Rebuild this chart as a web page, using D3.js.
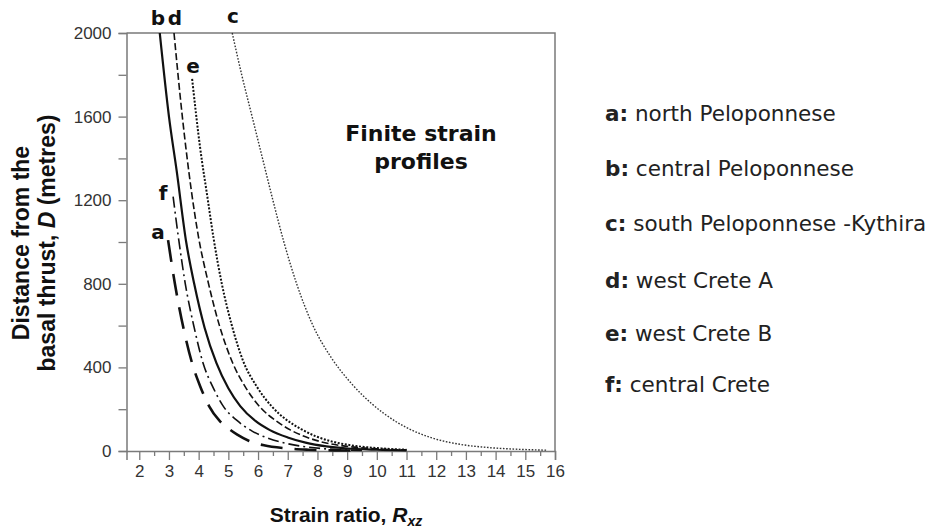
<!DOCTYPE html>
<html>
<head>
<meta charset="utf-8">
<script src="https://cdn.jsdelivr.net/npm/d3@7"></script>
<style>
  body { margin: 0; background: #fff; }
  svg { display: block; }
  .tick text { font-family: Arial, "Liberation Sans", sans-serif; font-size: 17px; fill: #333; }
  .axis-title { font-family: Arial, "Liberation Sans", sans-serif; font-weight: bold; fill: #111; }
  .curve-label { font-family: "DejaVu Sans", Verdana, sans-serif; font-weight: bold; font-size: 20px; fill: #111; }
  .legend { font-family: "DejaVu Sans", Verdana, sans-serif; font-size: 21.5px; fill: #222; }
</style>
</head>
<body>
<svg id="chart" width="934" height="532"></svg>
<script>
// Strain profiles: [R, D]
const curveA = [[2.97, 1009], [3.2, 800], [3.5, 580], [3.8, 410], [4.05, 310], [4.35, 215], [4.7, 145],
    [5.0, 108], [5.3, 78], [5.7, 48], [6.2, 27], [6.9, 13], [7.7, 6], [8.6, 3], [9.2, 2]];
const curveB = [[2.69, 2000], [3.0, 1600], [3.26, 1340], [3.58, 1000], [3.85, 800], [4.2, 590], [4.6, 420],
    [5.0, 300], [5.4, 215], [5.9, 145], [6.4, 100], [7.0, 65], [7.6, 40], [8.3, 22], [9.0, 12], [10, 6], [11, 3]];
const curveC = [[5.13, 2000], [5.45, 1800], [5.8, 1600], [6.15, 1400], [6.5, 1200], [6.87, 1000], [7.3, 800],
    [7.85, 600], [8.45, 450], [9.1, 330], [9.8, 230], [10.65, 140], [11.8, 65], [12.8, 32],
    [13.8, 16], [14.8, 8], [15.7, 4]];
const curveD = [[3.17, 2000], [3.45, 1600], [3.75, 1250], [4.0, 1020], [4.3, 820], [4.7, 600], [5.15, 420],
    [5.6, 300], [6.1, 205], [6.6, 145], [7.1, 100], [7.6, 68], [8.1, 45], [9, 22], [10, 10], [11, 5]];
const curveE = [[3.78, 1780], [4.05, 1450], [4.3, 1210], [4.5, 1020], [4.78, 800], [5.1, 610], [5.5, 430],
    [5.95, 310], [6.45, 215], [6.95, 150], [7.45, 105], [7.95, 70], [8.5, 45], [9.3, 24], [10.2, 12], [11, 6]];
const curveF = [[3.14, 1217], [3.33, 1010], [3.55, 800], [3.85, 590], [4.15, 420], [4.5, 300], [4.85, 210],
    [5.3, 145], [5.8, 95], [6.3, 63], [6.9, 38], [7.6, 20], [8.4, 9], [9.5, 3]];

const curveKeys = ['a', 'b', 'c', 'd', 'e', 'f'];
const regions = ['north Peloponnese', 'central Peloponnese', 'south Peloponnese -Kythira',
    'west Crete A', 'west Crete B', 'central Crete'];
const xTicks = [2, 3, 4, 5, 6, 7, 8, 9, 10, 11, 12, 13, 14, 15, 16];
const yTicks = [0, 400, 800, 1200, 1600, 2000];

const svg = d3.select('#chart');
const x = d3.scaleLinear().domain([1.57, 16]).range([126.5, 555]);
const y = d3.scaleLinear().domain([0, 2000]).range([451, 33]);
const axisColor = '#7a7a7a';

// Minor ticks (half steps on x, 200 on y)
const xMinor = d3.range(2.5, 16, 1);
const yMinor = d3.range(200, 2000, 400);

svg.append('g')
    .attr('transform', `translate(0,${y(0)})`)
    .call(d3.axisBottom(x).tickValues(xTicks).tickFormat(d3.format('d')).tickSize(9).tickPadding(5));
svg.append('g')
    .attr('transform', `translate(0,${y(0)})`)
    .call(d3.axisBottom(x).tickValues(xMinor).tickFormat('').tickSize(5))
    .select('.domain').remove();

svg.append('g')
    .attr('transform', `translate(${x.range()[0]},0)`)
    .call(d3.axisLeft(y).tickValues(yTicks).tickFormat(d3.format('d')).tickSize(8).tickPadding(7));
svg.append('g')
    .attr('transform', `translate(${x.range()[0]},0)`)
    .call(d3.axisLeft(y).tickValues(yMinor).tickFormat('').tickSize(8))
    .select('.domain').remove();

svg.selectAll('.domain').attr('stroke', axisColor).attr('stroke-width', 1.5);
svg.selectAll('.tick line').attr('stroke', axisColor).attr('stroke-width', 1.3);

// Frame: top and right edges
svg.append('path')
    .attr('d', `M${x.range()[0]},${y(2000)}H${x(16)}V${y(0)}`)
    .attr('fill', 'none')
    .attr('stroke', axisColor)
    .attr('stroke-width', 1.5);

// Curves
const styles = {
    a: { data: curveA, dash: '22,12', width: 2.6 },
    b: { data: curveB, dash: null, width: 2.2 },
    c: { data: curveC, dash: '1.6,1.6', width: 1.4 },
    d: { data: curveD, dash: '7,3', width: 1.6 },
    e: { data: curveE, dash: '2,1.6', width: 2 },
    f: { data: curveF, dash: '11,4,2,4', width: 1.6 }
};

const line = d3.line()
    .x(d => x(d[0]))
    .y(d => y(d[1]))
    .curve(d3.curveMonotoneX);

curveKeys.forEach(k => {
    const s = styles[k];
    svg.append('path')
        .datum(s.data)
        .attr('d', line)
        .attr('fill', 'none')
        .attr('stroke', k === 'c' ? '#333' : '#111')
        .attr('stroke-width', s.width)
        .attr('stroke-dasharray', s.dash);
});

// Labels at the curve ends
const labelPos = [
    { k: 'b', x: 158, y: 25 },
    { k: 'd', x: 175, y: 25 },
    { k: 'c', x: 233, y: 23 },
    { k: 'e', x: 193, y: 73 },
    { k: 'f', x: 163, y: 200 },
    { k: 'a', x: 158, y: 239 }
];
svg.selectAll('.curve-label')
    .data(labelPos)
    .enter().append('text')
    .attr('class', 'curve-label')
    .attr('x', d => d.x)
    .attr('y', d => d.y)
    .attr('text-anchor', 'middle')
    .text(d => d.k);

// Chart title inside the plot
const title = svg.append('text')
    .attr('class', 'curve-label')
    .attr('text-anchor', 'middle')
    .style('font-size', '22px');
title.append('tspan').attr('x', 421).attr('y', 141).text('Finite strain');
title.append('tspan').attr('x', 421).attr('y', 169).text('profiles');

// Legend
const legendY = [113, 168, 223, 280, 333, 384];
curveKeys.forEach((k, i) => {
    const t = svg.append('text')
        .attr('class', 'legend')
        .attr('x', 605)
        .attr('y', legendY[i])
        .attr('dy', '0.35em');
    t.append('tspan').style('font-weight', 'bold').text(k + ':');
    t.append('tspan').text(' ' + regions[i]);
});

// Axis titles
const xt = svg.append('text')
    .attr('class', 'axis-title')
    .attr('x', 346)
    .attr('y', 522)
    .attr('text-anchor', 'middle')
    .style('font-size', '21px');
xt.append('tspan').text('Strain ratio, ');
xt.append('tspan').style('font-style', 'italic').text('R');
xt.append('tspan').style('font-style', 'italic').style('font-size', '14px').attr('dy', 4).text('xz');

const yt = svg.append('text')
    .attr('class', 'axis-title')
    .attr('transform', 'translate(0,243) rotate(-90)')
    .attr('text-anchor', 'middle')
    .style('font-size', '23px');
yt.append('tspan').attr('x', 0).attr('y', 29).text('Distance from the');
yt.append('tspan').attr('x', 0).attr('y', 55).text('basal thrust, ');
yt.append('tspan').style('font-style', 'italic').text('D');
yt.append('tspan').text(' (metres)');
</script>
</body>
</html>
